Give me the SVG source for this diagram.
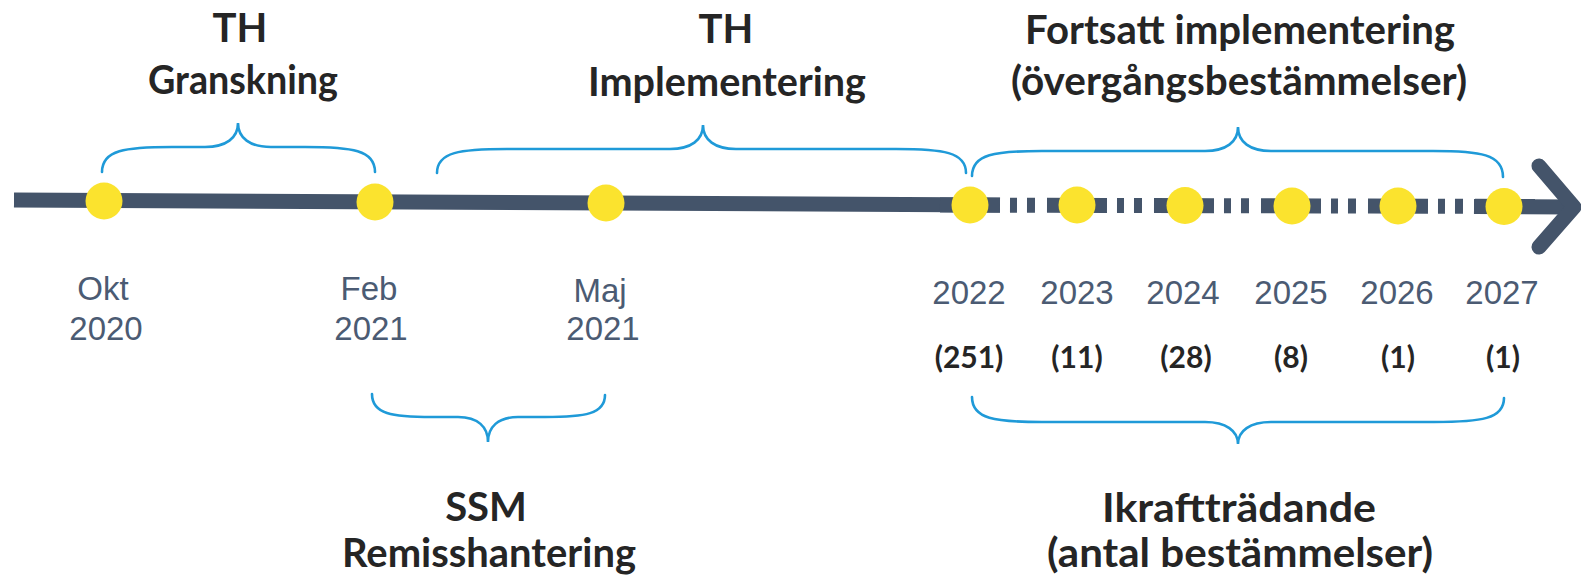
<svg xmlns="http://www.w3.org/2000/svg" width="1581" height="576" viewBox="0 0 1581 576">
<style>
.brace{fill:none;stroke:#1f9ad8;stroke-width:2.6;stroke-linecap:round}
.dot{fill:#fbe32e}
.date{font-family:"Liberation Sans",Arial,sans-serif;font-size:33px;fill:#4b5b73;text-anchor:middle}
.lbl{font-family:Lato,"Open Sans",sans-serif;font-weight:700;font-size:40px;fill:#252525;text-anchor:middle}
.cnt{font-family:Lato,"Open Sans",sans-serif;font-weight:700;font-size:30px;fill:#252525;text-anchor:middle}
.axis{stroke:#44546a;stroke-width:15;fill:none}
</style>
<rect width="1581" height="576" fill="#ffffff"/>
<g id="connectors">
<line class="axis" x1="14" y1="200" x2="1000" y2="205"/>
<line class="axis" x1="940" y1="205" x2="1535" y2="206.5" stroke-dasharray="60 10 7 10 8 12"/>
<line class="axis" x1="1474" y1="206.5" x2="1572" y2="207"/>
<polyline class="axis" points="1539,166 1574,207 1539,247" stroke-linecap="round" stroke-linejoin="round"/>
<path class="brace" d="M102,172 C102,150 125,147 172,147 L205,147 C226,147 238,138 238,123 C238,138 250,147 271,147 L305,147 C352,147 375,150 375,172"/>
<path class="brace" d="M437,173 C437,152 460,149 507,149 L670,149 C691,149 703,140 703,125 C703,140 715,149 736,149 L896,149 C943,149 966,152 966,173"/>
<path class="brace" d="M972,176 C972,154 995,151 1042,151 L1205,151 C1226,151 1238,142 1238,127 C1238,142 1250,151 1271,151 L1433,151 C1480,151 1503,154 1503,177"/>
<path class="brace" d="M372,394 C372,414 392,417 432,417 L458,417 C478,417 488,427 488,442 C488,427 498,417 518,417 L545,417 C585,417 605,414 605,395"/>
<path class="brace" d="M972,397 C972,419 995,422 1042,422 L1205,422 C1226,422 1238,431 1238,444 C1238,431 1250,422 1271,422 L1434,422 C1481,422 1504,419 1504,398"/>
</g>
<g id="n-okt"><circle class="dot" cx="104" cy="201" r="18.5"/><text class="date" x="103" y="300">Okt</text><text class="date" x="106" y="340">2020</text></g>
<g id="n-feb"><circle class="dot" cx="375" cy="202" r="18.5"/><text class="date" x="369" y="300">Feb</text><text class="date" x="371" y="340">2021</text></g>
<g id="n-maj"><circle class="dot" cx="606" cy="203" r="18.5"/><text class="date" x="600" y="302">Maj</text><text class="date" x="603" y="340">2021</text></g>
<g id="n-2022"><circle class="dot" cx="970" cy="205" r="18.5"/><text class="date" x="969" y="304">2022</text><text class="cnt" x="969" y="368">(251)</text></g>
<g id="n-2023"><circle class="dot" cx="1077" cy="205" r="18.5"/><text class="date" x="1077" y="304">2023</text><text class="cnt" x="1077" y="368">(11)</text></g>
<g id="n-2024"><circle class="dot" cx="1185" cy="205.5" r="18.5"/><text class="date" x="1183" y="304">2024</text><text class="cnt" x="1186" y="368">(28)</text></g>
<g id="n-2025"><circle class="dot" cx="1292" cy="206" r="18.5"/><text class="date" x="1291" y="304">2025</text><text class="cnt" x="1291" y="368">(8)</text></g>
<g id="n-2026"><circle class="dot" cx="1398" cy="206" r="18.5"/><text class="date" x="1397" y="304">2026</text><text class="cnt" x="1398" y="368">(1)</text></g>
<g id="n-2027"><circle class="dot" cx="1504" cy="206.5" r="18.5"/><text class="date" x="1502" y="304">2027</text><text class="cnt" x="1503" y="368">(1)</text></g>
<g id="l-granskning"><text class="lbl" x="240" y="42">TH</text><text class="lbl" x="243" y="94" textLength="190" lengthAdjust="spacingAndGlyphs">Granskning</text></g>
<g id="l-implementering"><text class="lbl" x="726" y="43">TH</text><text class="lbl" x="727" y="96" textLength="278" lengthAdjust="spacingAndGlyphs">Implementering</text></g>
<g id="l-fortsatt"><text class="lbl" x="1240" y="44" textLength="430" lengthAdjust="spacingAndGlyphs">Fortsatt implementering</text><text class="lbl" x="1239" y="95" textLength="456" lengthAdjust="spacingAndGlyphs">(övergångsbestämmelser)</text></g>
<g id="l-ssm"><text class="lbl" x="486" y="521">SSM</text><text class="lbl" x="489" y="567" textLength="294" lengthAdjust="spacingAndGlyphs">Remisshantering</text></g>
<g id="l-ikraft"><text class="lbl" x="1239" y="522" textLength="274" lengthAdjust="spacingAndGlyphs">Ikraftträdande</text><text class="lbl" x="1240" y="567" textLength="386" lengthAdjust="spacingAndGlyphs">(antal bestämmelser)</text></g>
</svg>
